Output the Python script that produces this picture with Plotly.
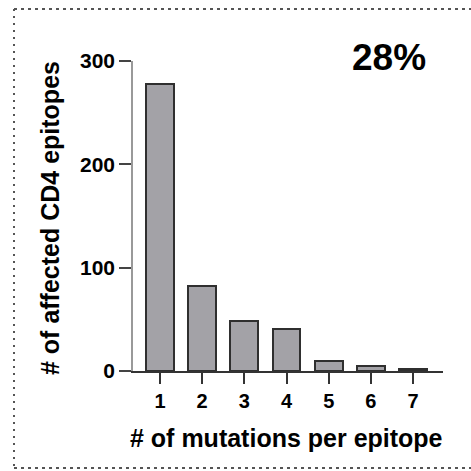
import plotly.graph_objects as go

categories = ["1", "2", "3", "4", "5", "6", "7"]
counts = [278, 82, 48, 41, 10, 5, 2]
y_ticks = [0, 100, 200, 300]
annotation_text = "28%"
x_title = "# of mutations per epitope"
y_title = "# of affected CD4 epitopes"

W, H = 471, 471
L, R, T, B = 133, 28, 61, 100
PW, PH = W - L - R, H - T - B

fig = go.Figure()
fig.add_trace(go.Bar(
    x=[int(c) for c in categories], y=counts,
    width=0.66,
    marker=dict(color="#a3a2a7", line=dict(color="#2f2f2f", width=2)),
))

font = "Liberation Sans, Arial, sans-serif"
fig.update_layout(
    width=W, height=H,
    margin=dict(l=L, r=R, t=T, b=B),
    paper_bgcolor="white", plot_bgcolor="white",
    showlegend=False,
    bargap=0,
    xaxis=dict(
        range=[0.36, 7.71], tickvals=[int(c) for c in categories], ticktext=categories,
        showline=True, linecolor="#333", linewidth=2,
        ticks="outside", ticklen=11, tickwidth=2, tickcolor="#333",
        showgrid=False, zeroline=False,
        tickfont=dict(family=font, size=20, color="black", weight="bold"),
    ),
    yaxis=dict(
        range=[0, 300], tickvals=y_ticks,
        showline=True, linecolor="#999", linewidth=1.5,
        ticks="outside", ticklen=12, tickwidth=2, tickcolor="#444",
        showgrid=False, zeroline=False,
        tickfont=dict(family=font, size=21, color="black", weight="bold"),
    ),
    annotations=[
        dict(text=f"<b>{annotation_text}</b>", xref="paper", yref="paper",
             x=(389 - L) / PW, y=(371 - 58) / PH,
             xanchor="center", yanchor="middle", showarrow=False,
             font=dict(family=font, size=37, color="black")),
        dict(text=f"<b>{x_title}</b>", xref="paper", yref="paper",
             x=(286 - L) / PW, y=(371 - 438) / PH,
             xanchor="center", yanchor="middle", showarrow=False,
             font=dict(family=font, size=25, color="black")),
        dict(text=f"<b>{y_title}</b>", xref="paper", yref="paper",
             x=(50 - L) / PW, y=(371 - 218) / PH, textangle=-90,
             xanchor="center", yanchor="middle", showarrow=False,
             font=dict(family=font, size=25, color="black")),
    ],
    shapes=[
        dict(type="line", xref="paper", yref="paper",
             x0=(14 - L) / PW, x1=(471 - L) / PW, y0=(371 - 9) / PH, y1=(371 - 9) / PH,
             line=dict(color="#555", width=2, dash="3px,4px")),
        dict(type="line", xref="paper", yref="paper",
             x0=(14 - L) / PW, x1=(14 - L) / PW, y0=(371 - 9) / PH, y1=(371 - 468) / PH,
             line=dict(color="#555", width=2, dash="2px,5px")),
        dict(type="line", xref="paper", yref="paper",
             x0=(14 - L) / PW, x1=(471 - L) / PW, y0=(371 - 468) / PH, y1=(371 - 468) / PH,
             line=dict(color="#555", width=2, dash="3px,4px")),
    ],
)

fig.write_html("out.html")
